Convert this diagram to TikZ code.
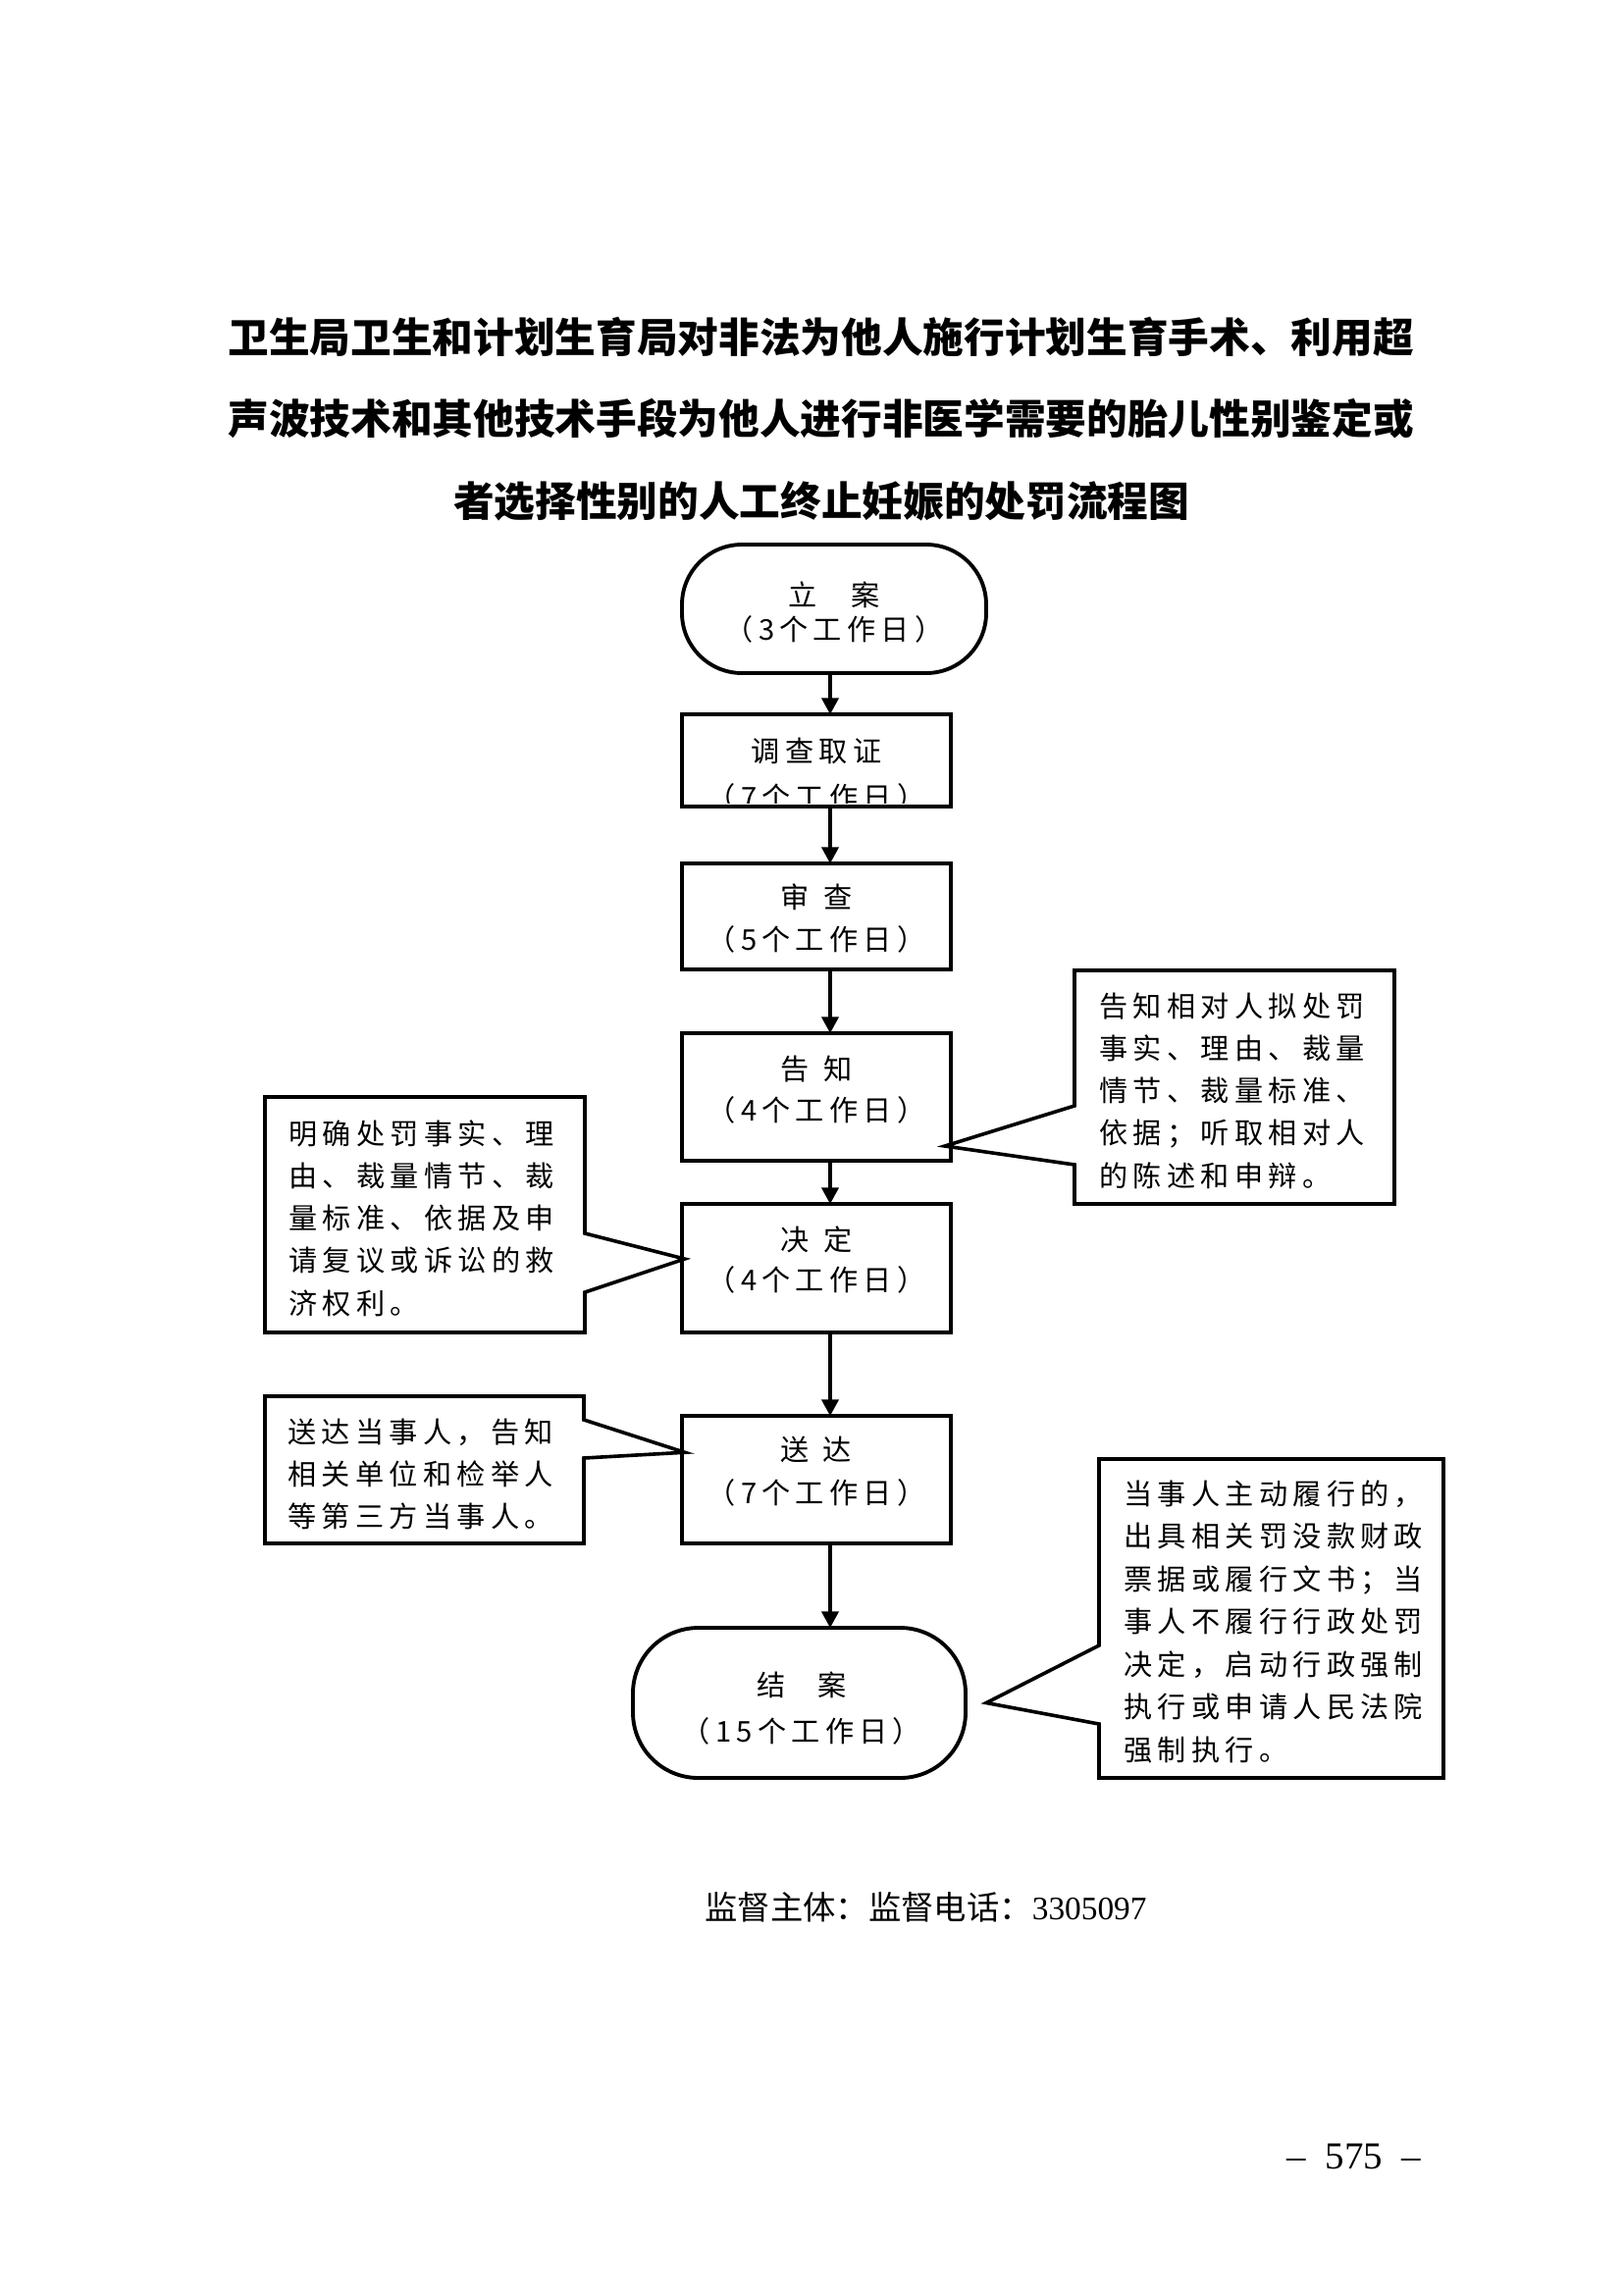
\documentclass[tikz,border=0pt]{standalone}
\usepackage{fontspec}
\setmainfont{Liberation Serif}
\newfontfamily\cjk[LetterSpace=18]{Noto Sans CJK SC}
\newfontfamily\cjkt{Noto Sans CJK SC}
\usetikzlibrary{arrows.meta,calc}
\tikzset{
  box/.style={draw, line width=1.4pt, rectangle, inner sep=0pt, outer sep=0pt, minimum width=274*0.36pt},
  term/.style={box, rounded corners=#1},
  flow/.style={line width=1.2pt, -{Triangle[length=6pt,width=6.2pt]}},
  callout/.style={draw, line width=1.3pt, line join=miter},
  tx/.style={font=\cjk\fontsize{10.5pt}{#1}\selectfont, align=center, inner sep=0pt},
  note/.style={font=\cjk\fontsize{10.5pt}{12pt}\selectfont, anchor=base west, inner sep=0pt},
  ttl/.style={font=\cjkt\bfseries\fontsize{15pt}{18pt}\selectfont, inner sep=0pt},
}
\begin{document}
\begin{tikzpicture}[x=0.36pt,y=-0.36pt]
\fill[white] (0,0) rectangle (1654,2339);
\useasboundingbox (0,0) rectangle (1654,2339);

% title
\node[ttl, anchor=base west] (title1) at (232,359) {卫生局卫生和计划生育局对非法为他人施行计划生育手术、利用超};
\node[ttl, anchor=base west] (title2) at (232,442) {声波技术和其他技术手段为他人进行非医学需要的胎儿性别鉴定或};
\node[ttl, anchor=base] (title3) at (837,526) {者选择性别的人工终止妊娠的处罚流程图};

% main flow boxes
\node[term=22pt, minimum width=310*0.36pt, minimum height=131*0.36pt] (la) at (850,620.5) {};
\node[tx=12.6pt] (la-t) at (850,624.5) {立\hspace{12.4pt}案\\（3个工作日）};

\node[box, minimum height=94*0.36pt] (dc) at (832,775) {};
\node[tx=15pt] (dc-t1) at (832,765) {调查取证};
\begin{scope}
  \clip (697,730) rectangle (967,818);
  \node[tx=15pt] (dc-t2) at (832,812) {（7个工作日）};
\end{scope}

\node[box, minimum height=108*0.36pt] (sc) at (832,934) {};
\node[tx=15.5pt] (sc-t) at (832,936.5) {审\hspace{5.6pt}查\\（5个工作日）};

\node[box, minimum height=130*0.36pt] (gz) at (832,1118) {};
\node[tx=15.1pt] (gz-t) at (832,1111) {告\hspace{5.6pt}知\\（4个工作日）};

\node[box, minimum height=131*0.36pt] (jd) at (832,1292.5) {};
\node[tx=15.1pt] (jd-t) at (832,1284) {决\hspace{5.6pt}定\\（4个工作日）};

\node[box, minimum height=130*0.36pt] (sd) at (832,1508) {};
\node[tx=15.8pt] (sd-t) at (832,1500) {送\hspace{5pt}达\\（7个工作日）};

\node[term=24pt, minimum width=339*0.36pt, minimum height=153*0.36pt] (ja) at (814.5,1735.5) {};
\node[tx=16.9pt] (ja-t) at (817,1741.5) {结\hspace{11.7pt}案\\（15个工作日）};

% arrows
\coordinate (ax) at (846,0);
\draw[flow] (la.south -| ax) -- (dc.north -| ax);
\draw[flow] (dc.south -| ax) -- (sc.north -| ax);
\draw[flow] (sc.south -| ax) -- (gz.north -| ax);
\draw[flow] (gz.south -| ax) -- (jd.north -| ax);
\draw[flow] (jd.south -| ax) -- (sd.north -| ax);
\draw[flow] (sd.south -| ax) -- (ja.north -| ax);

% callout: notice (right of 告知)
\draw[callout] (1095,989) -- (1421,989) -- (1421,1227) -- (1095,1227) -- (1095,1187)
  -- ([xshift=-2.2pt,yshift=-18pt]gz.east) -- (1095,1127) -- cycle;
\foreach \t [count=\i from 0] in {告知相对人拟处罚,事实、理由、裁量,情节、裁量标准、,依据；听取相对人,的陈述和申辩。}
  \node[note] (r1-\i) at (1120,{1036+43.25*\i}) {\t};

% callout: decision (left of 决定)
\draw[callout] (270,1118) -- (596,1118) -- (596,1257)
  -- ([xshift=1pt,yshift=3.4pt]jd.west) -- (596,1317) -- (596,1358) -- (270,1358) -- cycle;
\foreach \t [count=\i from 0] in {明确处罚事实、理,由、裁量情节、裁,量标准、依据及申,请复议或诉讼的救,济权利。}
  \node[note] (l1-\i) at (294,{1166+43.25*\i}) {\t};

% callout: delivery (left of 送达)
\draw[callout] (270,1423) -- (595,1423) -- (595,1447)
  -- ([xshift=1pt,yshift=10pt]sd.west) -- (595,1486) -- (595,1573) -- (270,1573) -- cycle;
\foreach \t [count=\i from 0] in {送达当事人，告知,相关单位和检举人,等第三方当事人。}
  \node[note] (l2-\i) at (293,{1470+43*\i}) {\t};

% callout: closing (right of 结案)
\draw[callout] (1120,1487) -- (1471,1487) -- (1471,1812) -- (1120,1812) -- (1120,1757)
  -- ([xshift=7.6pt]ja.east) -- (1120,1677) -- cycle;
\foreach \t [count=\i from 0] in {当事人主动履行的，,出具相关罚没款财政,票据或履行文书；当,事人不履行行政处罚,决定，启动行政强制,执行或申请人民法院,强制执行。}
  \node[note] (r2-\i) at (1145,{1533+43.5*\i}) {\t};

% footer
\node[anchor=base west, inner sep=0pt, font=\fontsize{12pt}{14pt}\selectfont] (foot) at (718,1956) {{\cjkt 监督主体：监督电话：}3305097};
\node[anchor=base, inner sep=0pt, font=\fontsize{14pt}{16pt}\selectfont] (page) at (1380,2210) {–\hspace{7pt}575\hspace{7pt}–};
\end{tikzpicture}
\end{document}
